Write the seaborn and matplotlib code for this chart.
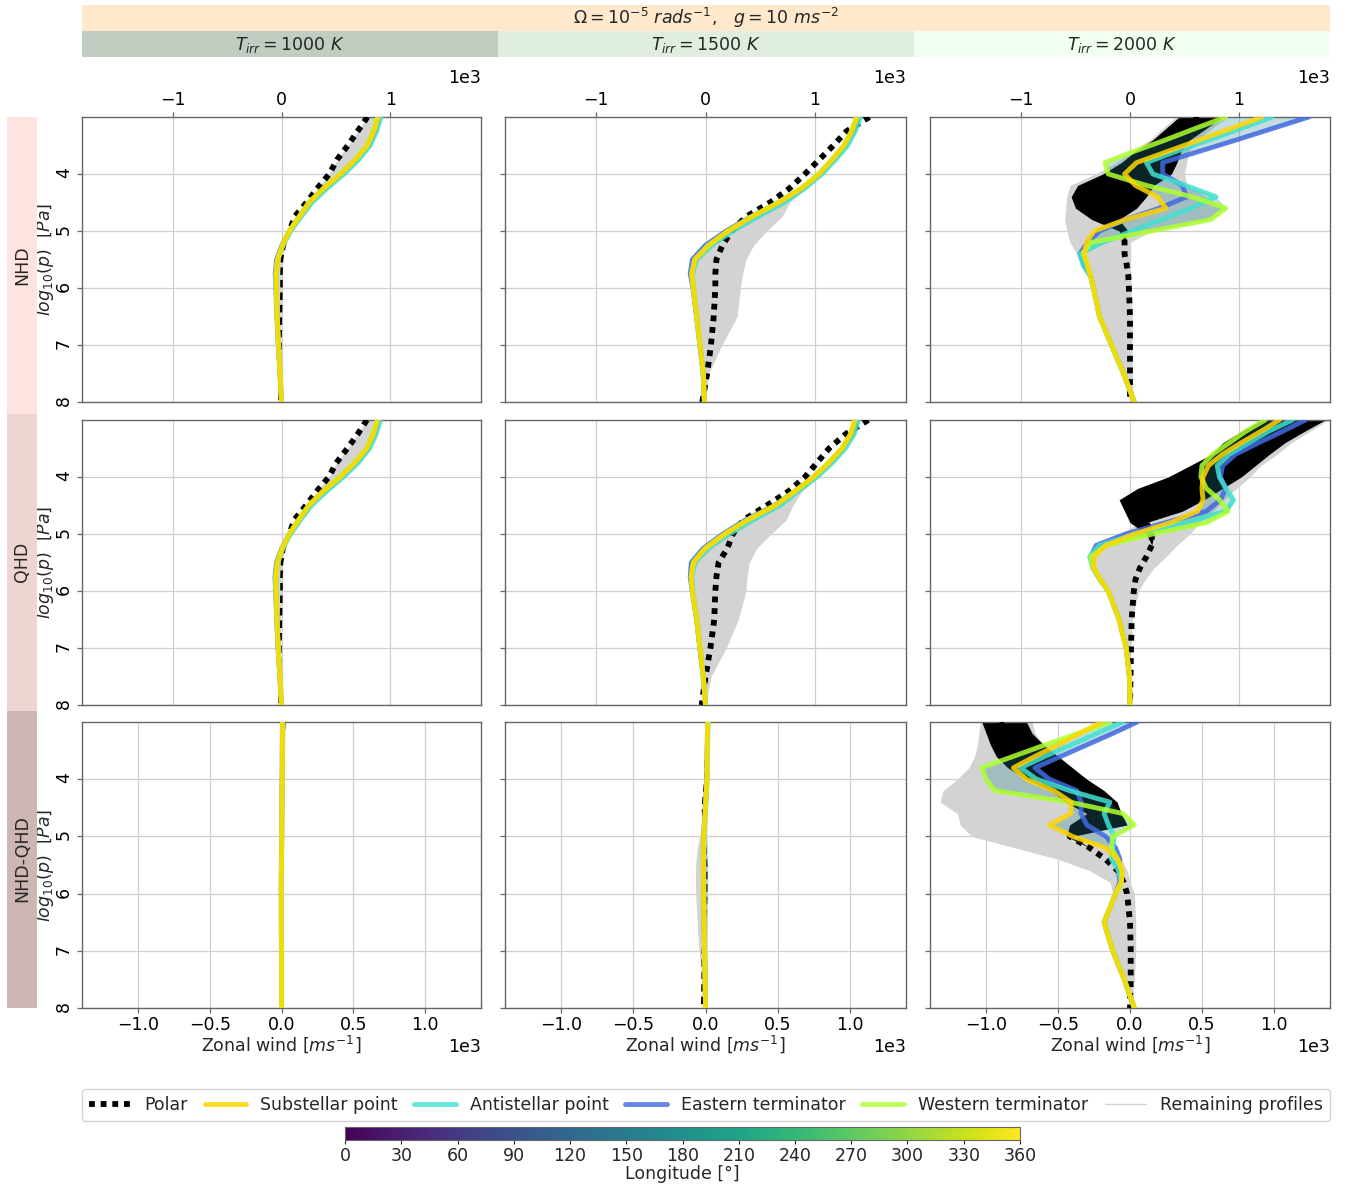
import numpy as np
import matplotlib
matplotlib.use("Agg")
import matplotlib as mpl
import matplotlib.pyplot as plt
import seaborn as sns
from matplotlib.patches import Rectangle
from matplotlib.lines import Line2D

sns.set_style("ticks")
plt.rcParams['font.family'] = ['DejaVu Sans']
plt.rcParams['mathtext.fontset'] = 'dejavusans'

# ---------------- data (zonal wind in m/s vs log10 p) ----------------
LOGP = [3.0, 3.25, 3.5, 3.75, 4.0, 4.25, 4.5, 4.75, 5.0, 5.25, 5.5, 5.75, 6.0, 6.5, 7.0, 7.5, 8.0]
LOGP3 = [3.0, 3.2, 3.4, 3.6, 3.8, 4.0, 4.2, 4.4, 4.6, 4.8, 5.0, 5.2, 5.4, 5.6, 5.8, 6.0, 6.5, 7.0, 7.5, 8.0]

ROW_NAMES = ["NHD", "QHD", "NHD-QHD"]
COL_TEMPS = [1000, 1500, 2000]
LEGEND_LABELS = ["Polar", "Substellar point", "Antistellar point", "Eastern terminator",
                 "Western terminator", "Remaining profiles"]
CBAR_TICKS = [0, 30, 60, 90, 120, 150, 180, 210, 240, 270, 300, 330, 360]

# NHD, 1000 K
SUB_NHD_1000 = [890, 850, 790, 680, 545, 390, 256, 164, 73, 10, -35, -50, -48, -40, -28, -12, 0]
ANTI_NHD_1000 = [915, 875, 815, 710, 575, 420, 280, 180, 85, 15, -35, -50, -48, -40, -28, -12, 0]
EAST_NHD_1000 = [900, 858, 798, 688, 552, 396, 262, 166, 74, 4, -45, -58, -52, -42, -30, -14, -2]
WEST_NHD_1000 = [885, 845, 785, 675, 540, 385, 250, 160, 70, 8, -38, -52, -48, -40, -28, -12, 0]
POLAR_NHD_1000 = [790, 700, 610, 510, 440, 330, 230, 120, 75, 30, 5, 0, 0, -5, -10, -15, -20]
REMLO_NHD_1000 = [790, 700, 612, 512, 442, 332, 232, 122, 70, 8, -38, -52, -48, -40, -28, -15, -20]
REMHI_NHD_1000 = [905, 865, 805, 695, 560, 405, 268, 172, 82, 30, 5, 0, 0, -5, -10, -10, 0]

# QHD, 1000 K
SUB_QHD_1000 = [885, 845, 785, 675, 540, 385, 252, 160, 72, 8, -38, -52, -50, -42, -30, -14, 0]
ANTI_QHD_1000 = [910, 870, 810, 705, 570, 415, 276, 176, 84, 14, -36, -52, -50, -42, -30, -14, 0]
EAST_QHD_1000 = [895, 852, 792, 682, 546, 390, 257, 162, 72, 3, -46, -60, -54, -44, -32, -15, -2]
WEST_QHD_1000 = [880, 840, 780, 670, 535, 380, 247, 157, 68, 6, -40, -54, -50, -42, -30, -14, 0]
POLAR_QHD_1000 = [785, 700, 605, 505, 435, 325, 225, 118, 72, 28, 5, 0, 0, -5, -10, -15, -20]
REMLO_QHD_1000 = [785, 700, 607, 507, 437, 327, 227, 120, 68, 6, -40, -54, -50, -42, -30, -15, -20]
REMHI_QHD_1000 = [900, 860, 800, 690, 555, 400, 264, 168, 80, 28, 5, 0, 0, -5, -10, -10, 0]

# NHD-QHD, 1000 K
SUB_DIFF_1000 = [8, 7, 6, 6, 5, 4, 4, 3, 2, 1, 0, -1, -1, -1, 0, 0, 0]
ANTI_DIFF_1000 = [10, 9, 8, 7, 6, 5, 4, 3, 2, 1, 0, -1, -1, -1, 0, 0, 0]
EAST_DIFF_1000 = [6, 6, 5, 5, 4, 3, 3, 2, 1, 0, -1, -2, -2, -1, -1, 0, 0]
WEST_DIFF_1000 = [8, 7, 6, 6, 5, 4, 4, 3, 2, 1, 0, -1, -1, -1, 0, 0, 0]
POLAR_DIFF_1000 = [20, 15, 12, 8, 5, 3, 1, 0, -2, -5, -6, -5, -4, -3, -2, -1, -1]
REMLO_DIFF_1000 = [5, 5, 4, 4, 3, 2, 2, 0, -3, -8, -10, -10, -8, -6, -4, -2, -1]
REMHI_DIFF_1000 = [20, 15, 12, 9, 7, 6, 5, 4, 3, 3, 2, 2, 2, 1, 1, 0, 0]

# NHD, 1500 K
SUB_NHD_1500 = [1390, 1340, 1270, 1160, 1040, 880, 670, 425, 210, 30, -95, -125, -110, -80, -50, -20, -10]
ANTI_NHD_1500 = [1420, 1370, 1300, 1190, 1065, 910, 720, 480, 250, 60, -80, -120, -110, -80, -50, -20, -10]
EAST_NHD_1500 = [1400, 1350, 1275, 1165, 1045, 885, 670, 415, 190, 0, -120, -140, -115, -82, -52, -22, -10]
WEST_NHD_1500 = [1380, 1335, 1265, 1155, 1035, 875, 665, 420, 205, 25, -100, -128, -112, -80, -50, -20, -10]
POLAR_NHD_1500 = [1500, 1290, 1170, 1040, 910, 770, 590, 370, 240, 155, 100, 90, 90, 75, 50, 15, -30]
REMLO_NHD_1500 = [1380, 1330, 1260, 1150, 1030, 870, 660, 410, 190, 0, -120, -140, -115, -82, -52, -22, -10]
REMHI_NHD_1500 = [1420, 1370, 1300, 1190, 1070, 920, 770, 700, 560, 440, 370, 340, 320, 290, 150, 30, 0]

# QHD, 1500 K
SUB_QHD_1500 = [1370, 1330, 1250, 1130, 990, 820, 640, 390, 180, 0, -110, -130, -120, -80, -50, -20, 0]
ANTI_QHD_1500 = [1400, 1360, 1280, 1160, 1020, 850, 680, 440, 220, 30, -95, -125, -115, -80, -50, -20, 0]
EAST_QHD_1500 = [1385, 1340, 1255, 1135, 995, 820, 630, 370, 160, -20, -130, -140, -122, -82, -52, -22, 0]
WEST_QHD_1500 = [1365, 1325, 1245, 1125, 985, 815, 635, 385, 175, -5, -112, -132, -120, -80, -50, -20, 0]
POLAR_QHD_1500 = [1490, 1280, 1130, 1020, 910, 760, 560, 350, 250, 200, 120, 100, 90, 80, 45, 0, -35]
REMLO_QHD_1500 = [1365, 1325, 1245, 1125, 985, 815, 630, 370, 160, -20, -130, -140, -125, -100, -80, -30, 0]
REMHI_QHD_1500 = [1400, 1350, 1270, 1160, 1020, 880, 800, 740, 600, 470, 400, 380, 370, 300, 190, 50, 0]

# NHD-QHD, 1500 K
SUB_DIFF_1500 = [16, 14, 12, 11, 10, 5, 0, -6, -12, -13, -14, -13, -12, -10, -7, -3, 0]
ANTI_DIFF_1500 = [18, 16, 14, 12, 11, 7, 2, -3, -8, -9, -10, -11, -11, -9, -6, -3, 0]
EAST_DIFF_1500 = [15, 13, 11, 10, 9, 4, -2, -8, -14, -15, -15, -14, -13, -10, -7, -3, 0]
WEST_DIFF_1500 = [16, 14, 12, 11, 10, 5, 0, -6, -12, -13, -14, -13, -12, -10, -7, -3, 0]
POLAR_DIFF_1500 = [16, 10, 5, 2, 0, -10, -18, -12, -7, 0, 5, 5, 5, 0, -18, -20, -23]
REMLO_DIFF_1500 = [12, 10, 8, 6, 5, 0, -6, -15, -40, -60, -68, -70, -68, -58, -45, -20, -5]
REMHI_DIFF_1500 = [20, 18, 16, 14, 13, 10, 8, 8, 10, 14, 16, 16, 16, 15, 12, 8, 3]

# NHD, 2000 K  (on LOGP3)
SUB_NHD_2000 = [1210, 930, 640, 350, 60, -50, 50, 250, 330, -40, -330, -400, -420, -390, -360, -335, -280, -170, -60, 40]
ANTI_NHD_2000 = [1300, 1020, 730, 430, 150, 210, 510, 790, 560, 290, 20, -250, -460, -430, -360, -335, -280, -170, -60, 40]
EAST_NHD_2000 = [1640, 1310, 980, 640, 300, 300, 480, 520, 270, -40, -280, -390, -460, -420, -360, -335, -280, -170, -60, 40]
WEST_NHD_2000 = [880, 600, 330, 40, -230, -200, 150, 570, 880, 740, 200, -360, -430, -390, -360, -335, -280, -170, -60, 40]
POLAR_NHD_2000 = [630, 500, 380, 220, 50, -50, -100, -200, -250, -150, -50, -50, -50, -30, -15, -10, 0, 0, 0, 0]
POLARLO_NHD_2000 = [450, 330, 210, 50, -80, -250, -480, -540, -500, -350, -100, -50, -50, -30, -15, -10, 0, 0, 0, 0]
POLARHI_NHD_2000 = [850, 700, 550, 470, 430, 380, 220, 150, 60, -100, -20, -50, -50, -30, -15, -10, 0, 0, 0, 0]
REMLO_NHD_2000 = [420, 300, 180, 20, -120, -320, -550, -580, -590, -600, -580, -550, -490, -440, -380, -340, -290, -180, -70, 0]
REMHI_NHD_2000 = [900, 750, 620, 540, 520, 500, 520, 700, 850, 700, 200, 0, 0, 0, 10, 10, 20, 20, 20, 30]

# QHD, 2000 K
SUB_QHD_2000 = [1370, 1200, 1020, 850, 720, 670, 660, 670, 620, 375, 40, -220, -330, -330, -270, -200, -100, -35, -5, 0]
ANTI_QHD_2000 = [1490, 1270, 1090, 910, 800, 820, 880, 950, 880, 510, 50, -280, -370, -340, -275, -200, -100, -35, -5, 0]
EAST_QHD_2000 = [1610, 1400, 1180, 970, 850, 830, 880, 830, 700, 330, -40, -310, -360, -340, -275, -200, -100, -35, -5, 0]
WEST_QHD_2000 = [1240, 1060, 910, 760, 660, 650, 700, 820, 900, 700, 210, -220, -360, -340, -275, -200, -100, -35, -5, 0]
POLAR_QHD_2000 = [1500, 1300, 1100, 950, 750, 550, 350, 250, 150, 150, 200, 200, 150, 90, 50, 35, 15, 10, 5, 0]
POLARLO_QHD_2000 = [1210, 1020, 850, 750, 550, 350, 70, -100, -50, 0, 150, 200, 150, 90, 50, 35, 15, 10, 5, 0]
POLARHI_QHD_2000 = [1790, 1600, 1420, 1280, 1150, 1020, 850, 680, 480, 150, 220, 200, 150, 90, 50, 35, 15, 10, 5, 0]
REMLO_QHD_2000 = [1200, 1050, 900, 750, 620, 550, 500, 450, 350, 100, -100, -300, -370, -360, -300, -220, -100, -30, 0, 0]
REMHI_QHD_2000 = [1820, 1650, 1480, 1350, 1200, 1100, 980, 860, 760, 640, 550, 430, 330, 220, 140, 80, 20, 10, 5, 0]

# NHD-QHD, 2000 K
SUB_DIFF_2000 = [-200, -350, -500, -660, -810, -720, -530, -410, -410, -560, -400, -170, -85, -55, -60, -100, -180, -120, -40, 30]
ANTI_DIFF_2000 = [-50, -230, -410, -590, -760, -650, -420, -140, -180, -150, -110, -120, -130, -80, -60, -100, -180, -120, -40, 30]
EAST_DIFF_2000 = [50, -120, -300, -480, -660, -560, -370, -340, -340, -300, -170, -100, -70, -80, -70, -100, -180, -120, -40, 30]
WEST_DIFF_2000 = [-140, -360, -590, -810, -1030, -1000, -940, -420, -50, 30, -120, -130, -85, -55, -60, -100, -180, -120, -40, 30]
POLAR_DIFF_2000 = [-900, -850, -780, -680, -550, -400, -280, -150, -100, -300, -420, -280, -170, -85, -45, -20, 0, 5, 5, 0]
POLARLO_DIFF_2000 = [-1030, -1000, -970, -930, -850, -720, -550, -450, -300, -420, -440, -280, -170, -85, -45, -20, 0, 5, 5, 0]
POLARHI_DIFF_2000 = [-720, -680, -600, -500, -400, -300, -180, -90, -60, -20, -400, -280, -170, -85, -45, -20, 0, 5, 5, 0]
REMLO_DIFF_2000 = [-1040, -1050, -1060, -1080, -1120, -1200, -1300, -1320, -1200, -1180, -1100, -800, -500, -280, -140, -120, -190, -130, -50, 0]
REMHI_DIFF_2000 = [-680, -660, -600, -550, -500, -450, -350, -250, -300, -300, -200, -120, -60, -20, 0, 30, 40, 40, 30, 10]

PANELS = [
    [dict(y=LOGP, sub=SUB_NHD_1000, anti=ANTI_NHD_1000, east=EAST_NHD_1000, west=WEST_NHD_1000,
          polar=POLAR_NHD_1000, rlo=REMLO_NHD_1000, rhi=REMHI_NHD_1000, plo=None, phi=None),
     dict(y=LOGP, sub=SUB_NHD_1500, anti=ANTI_NHD_1500, east=EAST_NHD_1500, west=WEST_NHD_1500,
          polar=POLAR_NHD_1500, rlo=REMLO_NHD_1500, rhi=REMHI_NHD_1500, plo=None, phi=None),
     dict(y=LOGP3, sub=SUB_NHD_2000, anti=ANTI_NHD_2000, east=EAST_NHD_2000, west=WEST_NHD_2000,
          polar=POLAR_NHD_2000, rlo=REMLO_NHD_2000, rhi=REMHI_NHD_2000,
          plo=POLARLO_NHD_2000, phi=POLARHI_NHD_2000)],
    [dict(y=LOGP, sub=SUB_QHD_1000, anti=ANTI_QHD_1000, east=EAST_QHD_1000, west=WEST_QHD_1000,
          polar=POLAR_QHD_1000, rlo=REMLO_QHD_1000, rhi=REMHI_QHD_1000, plo=None, phi=None),
     dict(y=LOGP, sub=SUB_QHD_1500, anti=ANTI_QHD_1500, east=EAST_QHD_1500, west=WEST_QHD_1500,
          polar=POLAR_QHD_1500, rlo=REMLO_QHD_1500, rhi=REMHI_QHD_1500, plo=None, phi=None),
     dict(y=LOGP3, sub=SUB_QHD_2000, anti=ANTI_QHD_2000, east=EAST_QHD_2000, west=WEST_QHD_2000,
          polar=POLAR_QHD_2000, rlo=REMLO_QHD_2000, rhi=REMHI_QHD_2000,
          plo=POLARLO_QHD_2000, phi=POLARHI_QHD_2000)],
    [dict(y=LOGP, sub=SUB_DIFF_1000, anti=ANTI_DIFF_1000, east=EAST_DIFF_1000, west=WEST_DIFF_1000,
          polar=POLAR_DIFF_1000, rlo=REMLO_DIFF_1000, rhi=REMHI_DIFF_1000, plo=None, phi=None),
     dict(y=LOGP, sub=SUB_DIFF_1500, anti=ANTI_DIFF_1500, east=EAST_DIFF_1500, west=WEST_DIFF_1500,
          polar=POLAR_DIFF_1500, rlo=REMLO_DIFF_1500, rhi=REMHI_DIFF_1500, plo=None, phi=None),
     dict(y=LOGP3, sub=SUB_DIFF_2000, anti=ANTI_DIFF_2000, east=EAST_DIFF_2000, west=WEST_DIFF_2000,
          polar=POLAR_DIFF_2000, rlo=REMLO_DIFF_2000, rhi=REMHI_DIFF_2000,
          plo=POLARLO_DIFF_2000, phi=POLARHI_DIFF_2000)],
]

# ---------------- layout / style ----------------
W, H = 1349, 1186
fig = plt.figure(figsize=(W / 100, H / 100), dpi=100)


def fbox(x0, y0, x1, y1):
    return [x0 / W, 1 - y1 / H, (x1 - x0) / W, (y1 - y0) / H]


COL_PX = [(82, 481), (505, 906), (930, 1330)]
ROW_PX = [(117, 402), (420, 705), (722, 1008)]
XLIM_TOP = 1835
XLIM_BOT = 1390
FS = 12.5
C_SUB, C_ANTI, C_EAST, C_WEST = "gold", "turquoise", "royalblue", "greenyellow"
C_REM = "lightgray"
POLAR_LS = (0, (1, 1))
THIN_LS = (0, (3, 2))
# depth (log p) down to which the polar profile is drawn with the heavy dotted style
THICK_UNTIL = [[5.0, 8.0, 8.0], [5.0, 8.0, 8.0], [3.0, 3.0, 8.0]]
spine_c = "#666666"

for r in range(3):
    for c in range(3):
        d = PANELS[r][c]
        ax = fig.add_axes(fbox(COL_PX[c][0], ROW_PX[r][0], COL_PX[c][1], ROW_PX[r][1]))
        y = np.array(d["y"])
        pol = np.array(d["polar"], dtype=float)
        ax.fill_betweenx(y, d["rlo"], d["rhi"], color=C_REM, lw=0, zorder=1)
        if d["plo"] is not None:
            ax.fill_betweenx(y, d["plo"], d["phi"], color="black", lw=0, zorder=2)
        cut = THICK_UNTIL[r][c]
        thick = y <= cut + 1e-9
        thin = y >= cut - 1e-9
        if thick.sum() > 1:
            sns.lineplot(x=pol[thick], y=y[thick], sort=False, estimator=None, orient="y", ax=ax,
                         color="black", lw=4.2, linestyle=POLAR_LS, zorder=3)
        if thin.sum() > 1:
            sns.lineplot(x=pol[thin], y=y[thin], sort=False, estimator=None, orient="y", ax=ax,
                         color="black", lw=1.8, linestyle=THIN_LS, zorder=3)
        allc = np.array([d["sub"], d["anti"], d["east"], d["west"]])
        ax.fill_betweenx(y, allc.min(axis=0), allc.max(axis=0),
                         color=mpl.colormaps["viridis"](0.45), alpha=0.28, lw=0, zorder=4)
        for key, col in (("east", C_EAST), ("anti", C_ANTI), ("west", C_WEST), ("sub", C_SUB)):
            sns.lineplot(x=d[key], y=y, sort=False, estimator=None, orient="y", ax=ax,
                         color=col, lw=3.5, alpha=0.85, zorder=5)
        ax.set_ylim(8, 3)
        ax.set_yticks([4, 5, 6, 7, 8])
        ax.grid(True, color="#cfcfcf", lw=0.9)
        ax.set_axisbelow(True)
        for s in ax.spines.values():
            s.set_color(spine_c)
            s.set_linewidth(1.0)
        ax.tick_params(axis="both", labelcolor="black", color=spine_c, labelsize=FS,
                       length=3.5, width=0.9)
        ax.tick_params(axis="x", pad=2)
        ax.set_xlabel("")
        ax.set_ylabel("")
        if c == 0:
            ax.tick_params(axis="y", labelrotation=90, pad=3)
            ax.set_ylabel(r"$log_{10}(p)$  $[Pa]$", fontsize=FS)
            ax.yaxis.set_label_coords(-0.066, 0.5)
        else:
            ax.tick_params(axis="y", labelleft=False)
        if r < 2:
            ax.set_xlim(-XLIM_TOP, XLIM_TOP)
            ax.set_xticks([-1000, 0, 1000])
            if r == 0:
                ax.xaxis.tick_top()
                ax.ticklabel_format(axis="x", style="sci", scilimits=(0, 0))
                ax.xaxis.get_offset_text().set_fontsize(FS)
            else:
                ax.tick_params(axis="x", bottom=False, labelbottom=False)
        else:
            ax.set_xlim(-XLIM_BOT, XLIM_BOT)
            ax.set_xticks([-1000, -500, 0, 500, 1000])
            ax.ticklabel_format(axis="x", style="sci", scilimits=(0, 0))
            ax.xaxis.get_offset_text().set_fontsize(FS)
            ax.set_xlabel(r"Zonal wind [$ms^{-1}$]", fontsize=FS, labelpad=0)

# ---------------- header boxes ----------------
fig.patches.append(Rectangle((82 / W, 1 - 31 / H), 1248 / W, 26 / H, transform=fig.transFigure,
                             facecolor="bisque", edgecolor="none", alpha=0.85))
fig.text(706 / W, 1 - 18 / H, r"$\Omega = 10^{-5}\ rads^{-1}$,   $g = 10\ ms^{-2}$",
         ha="center", va="center", fontsize=FS)
HEAD_COLORS = ["#c1cdc1", "#e0eee0", "#f0fff0"]
for i, t in enumerate(COL_TEMPS):
    x0 = 82 + i * 416
    fig.patches.append(Rectangle((x0 / W, 1 - 57 / H), 416 / W, 26 / H, transform=fig.transFigure,
                                 facecolor=HEAD_COLORS[i], edgecolor="none"))
    fig.text((x0 + 208) / W, 1 - 45 / H, r"$T_{irr} = %d\ K$" % t, ha="center", va="center", fontsize=FS)

ROW_COLORS = ["#ffe4e1", "#eed5d2", "#cdb7b5"]
for i, name in enumerate(ROW_NAMES):
    y0 = 117 + i * 297
    fig.patches.append(Rectangle((7 / W, 1 - (y0 + 297) / H), 30 / W, 297 / H, transform=fig.transFigure,
                                 facecolor=ROW_COLORS[i], edgecolor="none"))
    fig.text(22 / W, 1 - (y0 + 148) / H, name, rotation=90, ha="center", va="center", fontsize=FS)

# ---------------- legend ----------------
handles = [
    Line2D([], [], color="black", lw=4.2, linestyle=POLAR_LS),
    Line2D([], [], color=C_SUB, lw=3.5, alpha=0.85),
    Line2D([], [], color=C_ANTI, lw=3.5, alpha=0.8),
    Line2D([], [], color=C_EAST, lw=3.5, alpha=0.8),
    Line2D([], [], color=C_WEST, lw=3.5, alpha=0.8),
    Line2D([], [], color=C_REM, lw=1.0),
]
fig.legend(handles, LEGEND_LABELS, loc="lower left", ncol=6, mode="expand",
           bbox_to_anchor=(82 / W, 1 - 1121 / H, 1248 / W, 30 / H), borderaxespad=0,
           fontsize=FS, frameon=True, handlelength=2.4)

# ---------------- colorbar ----------------
cax = fig.add_axes(fbox(345, 1127, 1020, 1140))
sm = mpl.cm.ScalarMappable(norm=mpl.colors.Normalize(0, 360), cmap="viridis")
cb = fig.colorbar(sm, cax=cax, orientation="horizontal", ticks=CBAR_TICKS)
cb.ax.tick_params(labelsize=FS, length=3, pad=2)
cb.set_label("Longitude [°]", fontsize=FS, labelpad=0)
cb.outline.set_edgecolor(spine_c)

fig.savefig("out.png", dpi=100)
